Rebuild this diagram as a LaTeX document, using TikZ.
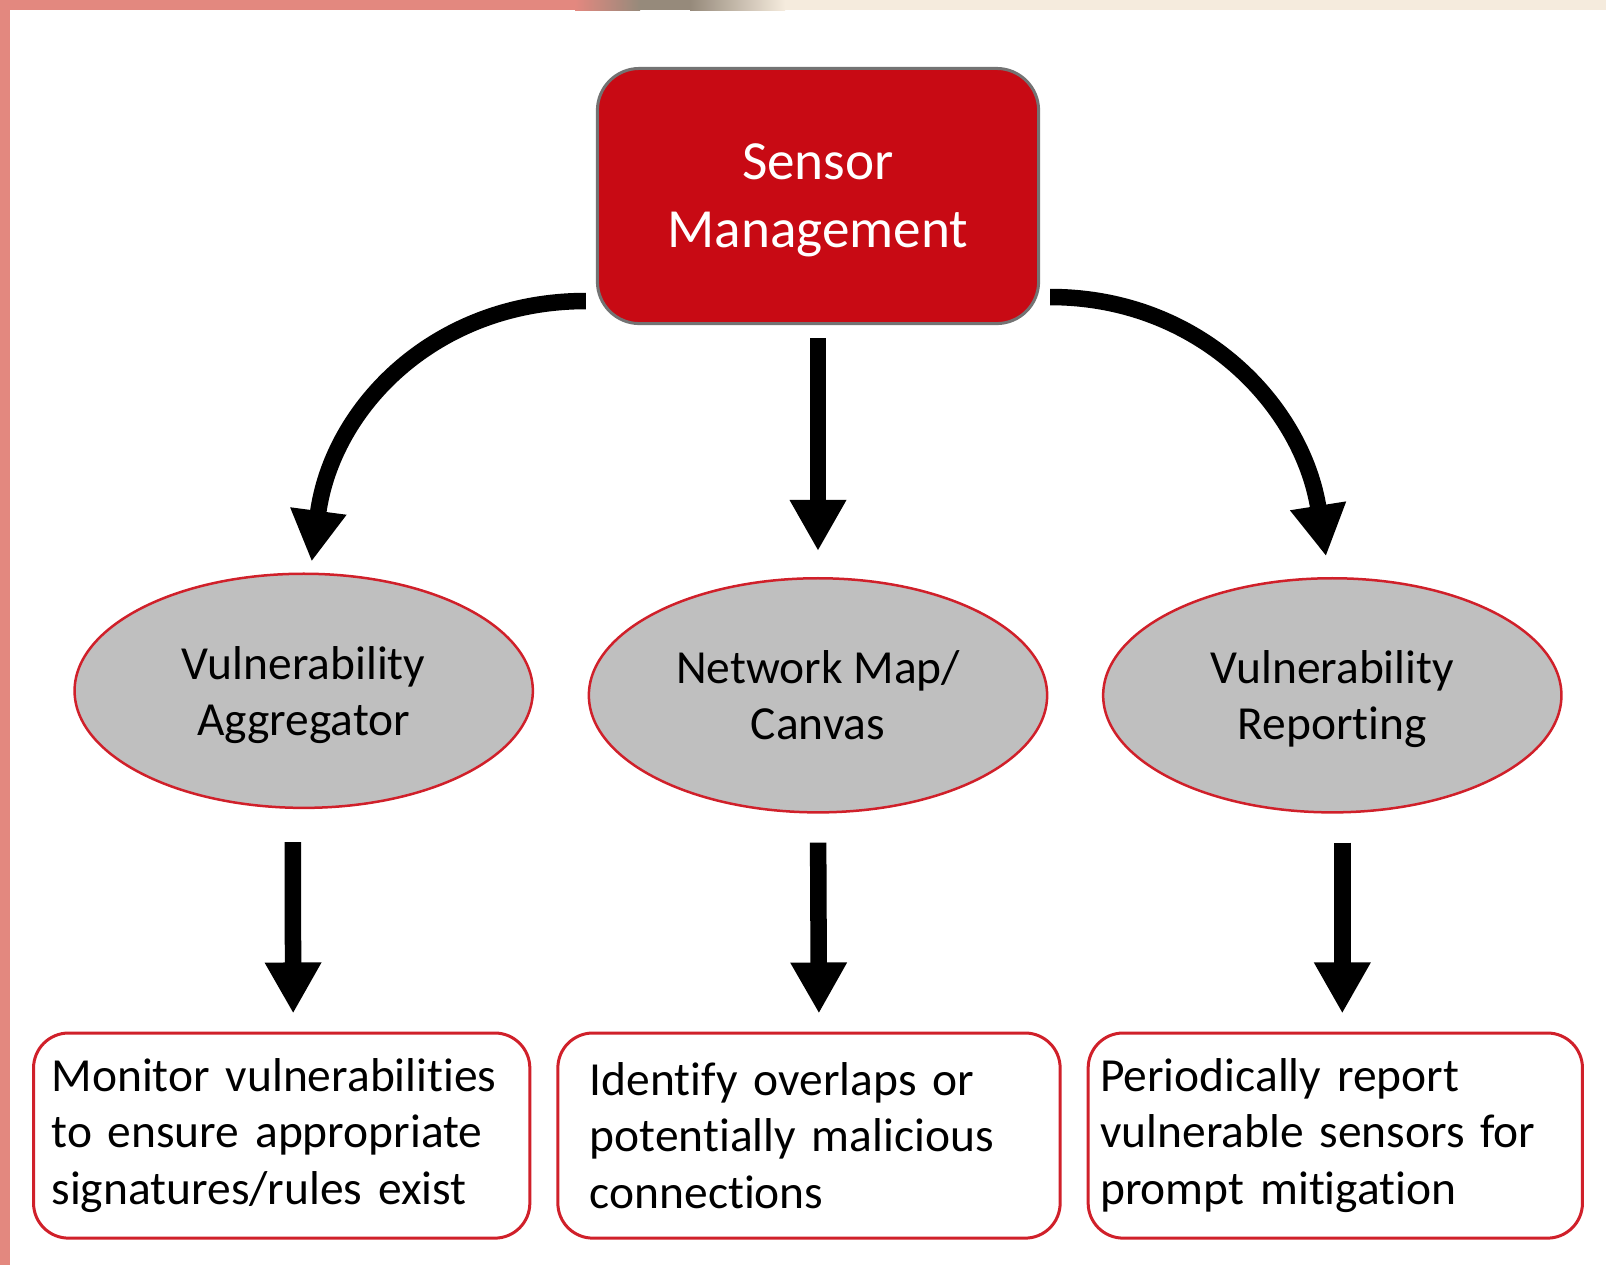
\documentclass[tikz,border=0pt]{standalone}
\usepackage{fontspec}
\setmainfont{Carlito}[Ligatures=NoCommon]
\usetikzlibrary{arrows.meta, positioning, shapes.geometric}

\definecolor{mgmtred}{HTML}{C80A14}
\definecolor{edgered}{HTML}{D0202A}
\definecolor{blobgray}{HTML}{BFBFBF}
\definecolor{barsalmon}{HTML}{E3887F}
\definecolor{bardark}{HTML}{968A7B}
\definecolor{barbeige}{HTML}{F5EBDD}

\begin{document}
\begin{tikzpicture}[x=0.01cm, y=-0.01cm, on grid,
	hub/.style = {draw=gray!90!black, line width=0.03cm, fill=mgmtred, rounded corners=0.42cm, minimum width=4.41cm, minimum height=2.55cm, align=center, text=white, text depth=0pt, font=\fontsize{15.7}{19.3}\selectfont},
	topic/.style = {ellipse, draw=edgered, line width=0.025cm, fill=blobgray, minimum width=4.58cm, minimum height=2.34cm, inner sep=0pt, align=center, text depth=0pt, font=\fontsize{13.5}{16}\selectfont},
	task/.style = {draw=edgered, line width=0.03cm, rounded corners=0.35cm, minimum height=2.05cm, align=left, font=\fontsize{13.5}{16}\selectfont},
	fat/.style = {line width=0.165cm, -{Triangle[width=0.53cm, length=0.51cm]}}]
	\useasboundingbox (0,0) rectangle (1606,1265);
	% frame bars
	\fill[barsalmon] (0,0) rectangle (10,1265);
	\fill[barsalmon] (0,0) rectangle (575,10);
	\shade[left color=barsalmon, right color=bardark] (575,0) rectangle (640,10);
	\fill[bardark] (640,0) rectangle (690,10);
	\shade[left color=bardark, right color=barbeige] (690,0) rectangle (785,10);
	\fill[barbeige] (785,0) rectangle (1606,10);

	\node[hub] (sensor) at (818,196) {Sensor\\Management};
	\node[topic] (netmap) [below=4.99cm of sensor] {Network Map/\\Canvas};
	\node[topic] (aggr) [left=5.14cm of netmap, yshift=0.045cm] {Vulnerability\\Aggregator};
	\node[topic] (report) [right=5.14cm of netmap] {Vulnerability\\Reporting};
	\node[task, text width=4.38cm, inner xsep=0.32cm] (identify) [below=4.40cm of netmap, xshift=-0.09cm] {Identify overlaps or\\potentially malicious\\connections};
	\node[task, text width=4.60cm, inner xsep=0.18cm] (monitor) [left=5.27cm of identify] {Monitor vulnerabilities\\to ensure appropriate\\signatures/rules exist};
	\node[task, text width=4.70cm, inner xsep=0.12cm] (periodic) [right=5.26cm of identify] {Periodically report\\vulnerable sensors for\\prompt mitigation};

	\draw[fat, shorten >=0.11cm] ([shift={(-10,105)}]sensor.west) .. controls +(-150,0) and +(22,-166) .. ([xshift=0.065cm]aggr.north);
	\draw[fat, shorten <=0.13cm, shorten >=0.26cm] (sensor) -- (netmap);
	\draw[fat, shorten >=0.21cm] ([shift={(10,101)}]sensor.east) .. controls +(150,0) and +(-27,-171) .. ([xshift=-0.03cm]report.north);
	\draw[fat, shorten <=0.33cm, shorten >=0.18cm] ([xshift=-0.11cm]aggr.south) -- ([xshift=0.115cm]monitor.north);
	\draw[fat, shorten <=0.29cm, shorten >=0.18cm] (netmap.south) -- ([xshift=0.1cm]identify.north);
	\draw[fat, shorten <=0.29cm, shorten >=0.18cm] ([xshift=0.1cm]report.south) -- ([xshift=0.07cm]periodic.north);
\end{tikzpicture}
\end{document}
